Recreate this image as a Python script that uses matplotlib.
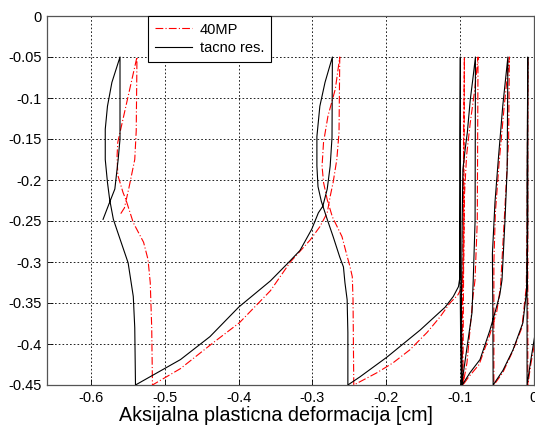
import matplotlib
matplotlib.use("Agg")
import matplotlib.pyplot as plt

plt.rcParams['font.family'] = ['Liberation Sans', 'DejaVu Sans']

# ---- data ----
xticks = [-0.6, -0.5, -0.4, -0.3, -0.2, -0.1, 0]
xtick_labels = ['-0.6', '-0.5', '-0.4', '-0.3', '-0.2', '-0.1', '0']
yticks = [0, -0.05, -0.1, -0.15, -0.2, -0.25, -0.3, -0.35, -0.4, -0.45]
ytick_labels = ['0', '-0.05', '-0.1', '-0.15', '-0.2', '-0.25', '-0.3', '-0.35', '-0.4', '-0.45']

# "tacno res." (exact result), one continuous path
tacno_x = [-0.584, -0.575, -0.568, -0.5635, -0.561, -0.561,
           -0.572, -0.578, -0.581, -0.581, -0.578, -0.575, -0.570, -0.564, -0.550, -0.543, -0.541, -0.540,
           -0.479, -0.439, -0.400, -0.357, -0.334, -0.317, -0.301, -0.292,
           -0.286, -0.280, -0.276, -0.2735, -0.273,
           -0.283, -0.290, -0.294, -0.294, -0.2925, -0.288, -0.280, -0.272, -0.263, -0.258, -0.256, -0.253, -0.252, -0.252,
           -0.2355, -0.199, -0.154, -0.120, -0.109, -0.102, -0.100,
           -0.0995, -0.0995,
           -0.100, -0.100, -0.099, -0.098,
           -0.0953, -0.089, -0.0837, -0.082, -0.0795, -0.079,
           -0.082, -0.086, -0.090, -0.093, -0.096, -0.097, -0.098, -0.097,
           -0.0864, -0.0728, -0.0593, -0.052, -0.046, -0.043, -0.039, -0.036, -0.035,
           -0.042, -0.048, -0.0525, -0.056, -0.0555, -0.055,
           -0.0416, -0.028, -0.0146, -0.009, -0.008, -0.008,
           -0.009, -0.009,
           -0.004, 0.002, 0.010]
tacno_y = [-0.248, -0.227, -0.211, -0.175, -0.150, -0.050,
           -0.081, -0.110, -0.138, -0.175, -0.203, -0.224, -0.248, -0.264, -0.301, -0.342, -0.380, -0.450,
           -0.419, -0.391, -0.355, -0.323, -0.302, -0.286, -0.260, -0.240,
           -0.232, -0.211, -0.183, -0.148, -0.050,
           -0.081, -0.110, -0.147, -0.183, -0.208, -0.226, -0.248, -0.269, -0.294, -0.306, -0.325, -0.346, -0.386, -0.450,
           -0.440, -0.416, -0.383, -0.355, -0.342, -0.330, -0.318,
           -0.200, -0.050,
           -0.150, -0.300, -0.400, -0.450,
           -0.435, -0.395, -0.362, -0.322, -0.250, -0.050,
           -0.073, -0.102, -0.142, -0.163, -0.187, -0.250, -0.350, -0.450,
           -0.435, -0.419, -0.383, -0.360, -0.340, -0.322, -0.250, -0.187, -0.050,
           -0.110, -0.175, -0.227, -0.290, -0.350, -0.450,
           -0.432, -0.407, -0.374, -0.330, -0.250, -0.050,
           -0.200, -0.450,
           -0.420, -0.387, -0.350]

# "40MP" model, one continuous path
mp40_x = [-0.560, -0.555, -0.549, -0.541, -0.539, -0.538,
          -0.550, -0.558, -0.564, -0.565, -0.564, -0.557, -0.553, -0.543, -0.529, -0.523, -0.520, -0.518, -0.517,
          -0.479, -0.434, -0.399, -0.357, -0.330, -0.303, -0.290, -0.280,
          -0.276, -0.272, -0.267, -0.264, -0.263,
          -0.269, -0.279, -0.285, -0.287, -0.285, -0.280, -0.273, -0.260, -0.253, -0.249, -0.246, -0.245, -0.244,
          -0.2356, -0.2125, -0.1908, -0.1678, -0.1447, -0.127, -0.1136, -0.1027, -0.097,
          -0.095, -0.094,
          -0.095, -0.096, -0.097, -0.096,
          -0.0905, -0.0864, -0.0823, -0.0796, -0.0765, -0.0755,
          -0.080, -0.086, -0.091, -0.094, -0.095, -0.096,
          -0.088, -0.074, -0.060, -0.050, -0.045, -0.040, -0.034, -0.033,
          -0.040, -0.047, -0.052, -0.054, -0.054,
          -0.042, -0.029, -0.016, -0.010, -0.009, -0.008,
          -0.008, -0.008,
          -0.004, 0.003]
mp40_y = [-0.241, -0.234, -0.210, -0.175, -0.140, -0.050,
          -0.098, -0.130, -0.154, -0.171, -0.194, -0.215, -0.224, -0.252, -0.276, -0.297, -0.325, -0.380, -0.450,
          -0.430, -0.398, -0.374, -0.335, -0.300, -0.273, -0.257, -0.240,
          -0.220, -0.203, -0.175, -0.142, -0.050,
          -0.089, -0.122, -0.154, -0.183, -0.203, -0.224, -0.245, -0.269, -0.293, -0.306, -0.318, -0.346, -0.450,
          -0.446, -0.435, -0.423, -0.407, -0.386, -0.367, -0.350, -0.340, -0.330,
          -0.300, -0.050,
          -0.150, -0.300, -0.400, -0.450,
          -0.423, -0.383, -0.342, -0.322, -0.250, -0.050,
          -0.090, -0.130, -0.170, -0.220, -0.300, -0.450,
          -0.440, -0.425, -0.390, -0.360, -0.330, -0.250, -0.150, -0.050,
          -0.110, -0.180, -0.240, -0.300, -0.450,
          -0.435, -0.410, -0.380, -0.330, -0.250, -0.050,
          -0.200, -0.450,
          -0.425, -0.390]

series_labels = ['40MP', 'tacno res.']
x_label = 'Aksijalna plasticna deformacija [cm]'

# ---- figure ----
fig = plt.figure(figsize=(5.35, 4.30), dpi=100)
ax = fig.add_axes([47 / 535, 45 / 430, (533.7 - 47) / 535, (385 - 16) / 430])

ax.plot(mp40_x, mp40_y, color='red', lw=0.8, linestyle=(0, (7, 2, 1, 2)),
        label=series_labels[0], zorder=3)
ax.plot(tacno_x, tacno_y, color='black', lw=0.8, label=series_labels[1], zorder=4)

ax.set_xlim(-0.66, 0)
ax.set_ylim(-0.45, 0)
ax.set_xticks(xticks)
ax.set_xticklabels(xtick_labels)
ax.set_yticks(yticks)
ax.set_yticklabels(ytick_labels)
ax.tick_params(direction='in', length=4, labelsize=10.5, colors='black', width=0.6, pad=4)
ax.grid(True, color='black', linestyle=(0, (2, 2.5)), lw=0.6)
for s in ax.spines.values():
    s.set_color('#555555')
    s.set_linewidth(0.9)

ax.set_xlabel(x_label, fontsize=14.2)
ax.xaxis.set_label_coords(0.4705, -0.058)

leg = ax.legend(loc='upper left', bbox_to_anchor=(0.2075, 1.0), fontsize=10.5,
                fancybox=False, framealpha=1, edgecolor='black', borderpad=0.45,
                handlelength=2.6, handletextpad=0.5, labelspacing=0.3, borderaxespad=0)
leg.get_frame().set_linewidth(0.8)

fig.savefig('out.png', dpi=100)
